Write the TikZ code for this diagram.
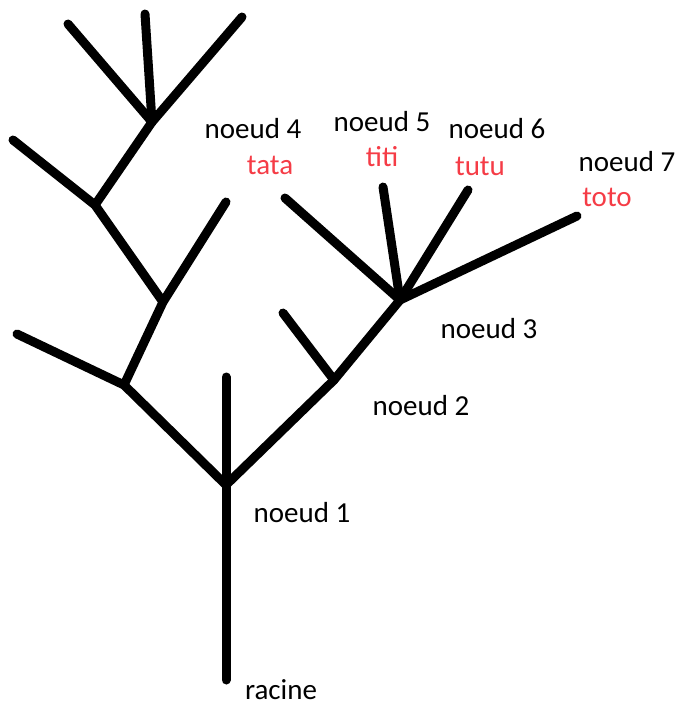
\documentclass[tikz,border=0pt]{standalone}
\usepackage{fontspec}
\setmainfont{Carlito}
\usepackage{xcolor}
\definecolor{leafred}{RGB}{245,60,70}

\begin{document}
\begin{tikzpicture}[x=1pt,y=-1pt,
    branch/.style={line width=9pt,line cap=round,line join=round},
    lbl/.style={font=\fontsize{29}{34}\selectfont,inner sep=0pt},
    leaf/.style={lbl,text=leafred}]
    \useasboundingbox (0,0) rectangle (680,709);
    % tronc et noeuds
    \coordinate (racine) at (226,680);
    \coordinate (n1) at (226,485);
    \coordinate (n1top) at (226,377);
    \coordinate (n2) at (334,380);
    \coordinate (n2end) at (283,313);
    \coordinate (n3) at (400,300);
    \coordinate (n4) at (285,198);
    \coordinate (n5) at (383,187);
    \coordinate (n6) at (468,190);
    \coordinate (n7) at (577,216);
    % branche gauche
    \coordinate (g1) at (124,385);
    \coordinate (g1end) at (17,334);
    \coordinate (g2) at (163,302);
    \coordinate (g2end) at (226,202);
    \coordinate (g3) at (95,205);
    \coordinate (g3end) at (13,140);
    \coordinate (g4) at (152,122);
    \coordinate (g4a) at (68,24);
    \coordinate (g4b) at (145,14);
    \coordinate (g4c) at (242,17);
    \draw[branch] (racine) -- (n1) -- (n1top);
    \draw[branch] (n1) -- (n2) -- (n3) -- (n4);
    \draw[branch] (n2) -- (n2end);
    \draw[branch] (n3) -- (n5);
    \draw[branch] (n3) -- (n6);
    \draw[branch] (n3) -- (n7);
    \draw[branch] (n1) -- (g1) -- (g1end);
    \draw[branch] (g1) -- (g2) -- (g2end);
    \draw[branch] (g2) -- (g3) -- (g3end);
    \draw[branch] (g3) -- (g4) -- (g4a);
    \draw[branch] (g4) -- (g4b);
    \draw[branch] (g4) -- (g4c);
    % textes
    \node[lbl] (racinelbl) at (281,690) {racine};
    \node[lbl] (n1lbl) at (302,513) {noeud 1};
    \node[lbl] (n2lbl) at (421,406) {noeud 2};
    \node[lbl] (n3lbl) at (489,329) {noeud 3};
    \node[lbl] (n4lbl) at (253,129) {noeud 4};
    \node[leaf] (tata) at (270,165) {tata};
    \node[lbl] (n5lbl) at (382,122) {noeud 5};
    \node[leaf] (titi) at (382,157) {titi};
    \node[lbl] (n6lbl) at (497,129) {noeud 6};
    \node[leaf] (tutu) at (480,166) {tutu};
    \node[lbl] (n7lbl) at (627,162) {noeud 7};
    \node[leaf] (toto) at (607,197) {toto};
\end{tikzpicture}
\end{document}
